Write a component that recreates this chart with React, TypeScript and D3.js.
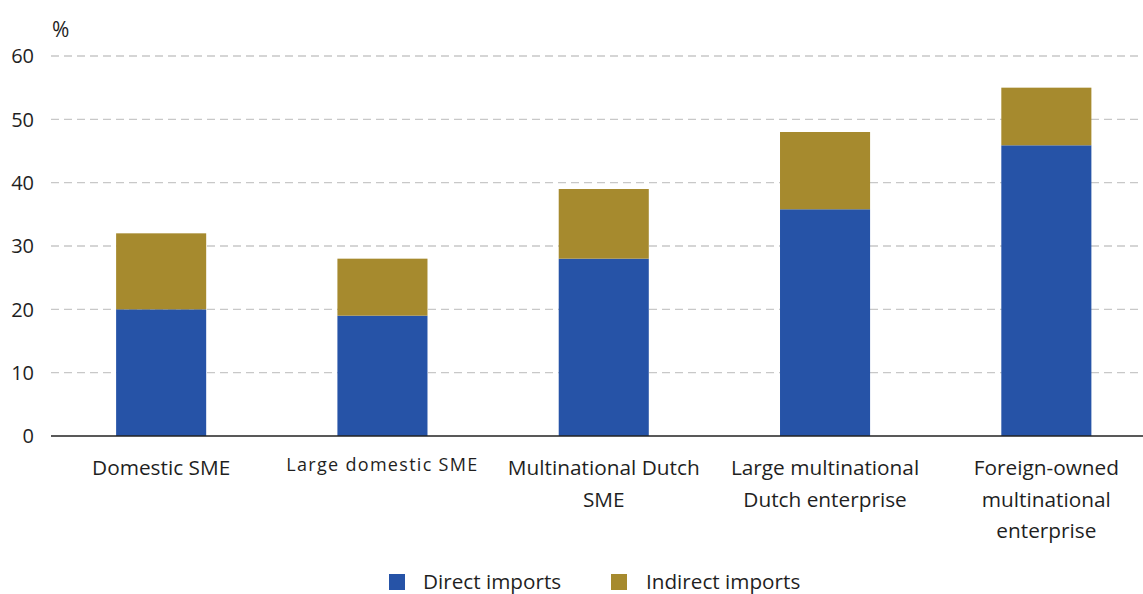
import React from "react";
import * as d3 from "d3";

const categories: string[][] = [
  ["Domestic SME"],
  ["Large domestic SME"],
  ["Multinational Dutch", "SME"],
  ["Large multinational", "Dutch enterprise"],
  ["Foreign-owned", "multinational", "enterprise"],
];
const directImports = [20, 19, 28, 35.8, 45.9];
const indirectImports = [12, 9, 11, 12.2, 9.1];
const yTicks = [0, 10, 20, 30, 40, 50, 60];
const seriesNames = ["Direct imports", "Indirect imports"];
const seriesColors = ["#2653a7", "#a68a2e"];

const W = 1143;
const H = 594;
const plotLeft = 51;
const plotRight = 1143;
const y0 = 436;
const yTop = 56;
const font = "'Open Sans', sans-serif";
const ink = "#1f1f1f";

export default function App() {
  const keys = categories.map((c) => c.join(" "));
  const x = d3
    .scaleBand<string>()
    .domain(keys)
    .range([50.5, 1157])
    .paddingInner(0.593)
    .paddingOuter(0.2965);
  const y = d3.scaleLinear().domain([0, 60]).range([y0, yTop]);

  const rows = keys.map((k, i) => ({ key: k, direct: directImports[i], indirect: indirectImports[i] }));
  const stack = d3.stack<any>().keys(["direct", "indirect"])(rows);

  return (
    <svg width={W} height={H} style={{ position: "absolute", left: 0, top: 0, background: "#fff" }}>
      {/* gridlines */}
      {yTicks
        .filter((t) => t > 0)
        .map((t) => (
          <line
            key={t}
            x1={plotLeft}
            x2={plotRight}
            y1={y(t)}
            y2={y(t)}
            stroke="#c8c8c8"
            strokeWidth={1.3}
            strokeDasharray="8 5"
          />
        ))}
      {/* y tick labels */}
      {yTicks.map((t) => (
        <text
          key={t}
          x={34}
          y={y(t)}
          dy="0.36em"
          textAnchor="end"
          fontFamily={font}
          fontSize={20}
          fill={ink}
        >
          {t}
        </text>
      ))}
      <text x={52} y={37} fontFamily={font} fontSize={21} fill={ink}>
        %
      </text>
      {/* stacked bars */}
      {stack.map((layer, si) =>
        layer.map((d, i) => (
          <rect
            key={si + "-" + i}
            x={x(keys[i])}
            y={y(d[1])}
            width={x.bandwidth()}
            height={y(d[0]) - y(d[1])}
            fill={seriesColors[si]}
          />
        ))
      )}
      {/* baseline */}
      <line x1={plotLeft} x2={plotRight} y1={y0} y2={y0} stroke="#222" strokeWidth={1.5} />
      {/* category labels */}
      {categories.map((lines, i) => {
        const cx = (x(keys[i]) as number) + x.bandwidth() / 2;
        const small = i === 1;
        return (
          <text
            key={i}
            x={cx}
            textAnchor="middle"
            fontFamily={font}
            fontSize={small ? 18 : 20.8}
            letterSpacing={small ? 1.3 : 0}
            fill={ink}
          >
            {lines.map((l, j) => (
              <tspan key={j} x={cx} y={(small ? 471 : 475) + j * 31.5}>
                {l}
              </tspan>
            ))}
          </text>
        );
      })}
      {/* legend */}
      <rect x={389} y={574} width={16} height={16} fill={seriesColors[0]} />
      <text x={423} y={589} fontFamily={font} fontSize={20.7} fill={ink}>
        {seriesNames[0]}
      </text>
      <rect x={611} y={574} width={16} height={16} fill={seriesColors[1]} />
      <text x={646} y={589} fontFamily={font} fontSize={20.7} fill={ink}>
        {seriesNames[1]}
      </text>
    </svg>
  );
}
